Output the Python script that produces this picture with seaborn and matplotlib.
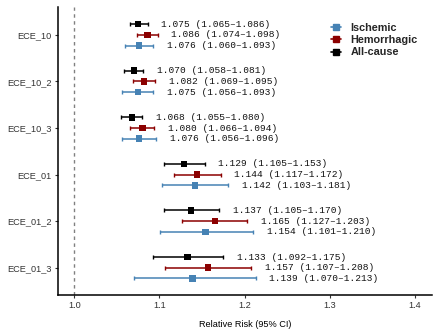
import numpy as np
import pandas as pd
import matplotlib
matplotlib.use("Agg")
import matplotlib.pyplot as plt
from matplotlib.lines import Line2D
import seaborn as sns

sns.set_style("ticks")
plt.rcParams['font.family'] = ['Liberation Sans', 'DejaVu Sans']

groups = ["ECE_10", "ECE_10_2", "ECE_10_3", "ECE_01", "ECE_01_2", "ECE_01_3"]
causes = ["All-cause", "Hemorrhagic", "Ischemic"]

allcause_est = [1.075, 1.070, 1.068, 1.129, 1.137, 1.133]
allcause_lo = [1.065, 1.058, 1.055, 1.105, 1.105, 1.092]
allcause_hi = [1.086, 1.081, 1.080, 1.153, 1.170, 1.175]

hemo_est = [1.086, 1.082, 1.080, 1.144, 1.165, 1.157]
hemo_lo = [1.074, 1.069, 1.066, 1.117, 1.127, 1.107]
hemo_hi = [1.098, 1.095, 1.094, 1.172, 1.203, 1.208]

isch_est = [1.076, 1.075, 1.076, 1.142, 1.154, 1.139]
isch_lo = [1.060, 1.056, 1.056, 1.103, 1.101, 1.070]
isch_hi = [1.093, 1.093, 1.096, 1.181, 1.210, 1.213]

xticks = [1.0, 1.1, 1.2, 1.3, 1.4]

colors = {"All-cause": "#000000", "Hemorrhagic": "#8B0000", "Ischemic": "#4682B4"}
offsets = {"All-cause": -0.23, "Hemorrhagic": 0.0, "Ischemic": 0.23}

series = {
    "All-cause": (allcause_est, allcause_lo, allcause_hi),
    "Hemorrhagic": (hemo_est, hemo_lo, hemo_hi),
    "Ischemic": (isch_est, isch_lo, isch_hi),
}

rows = []
for c in causes:
    est, lo, hi = series[c]
    for i, g in enumerate(groups):
        rows.append(dict(group=g, cause=c, est=est[i], lo=lo[i], hi=hi[i],
                         ypos=i + offsets[c]))
df = pd.DataFrame(rows)

fig = plt.figure(figsize=(4.4, 3.3), dpi=100)
ax = fig.add_axes([0.132, 0.106, 0.85, 0.873])

ax.axvline(1.0, color="#808080", lw=1.0, ls=(0, (2.5, 2.5)), zorder=0)

for c in causes:
    d = df[df.cause == c]
    ax.errorbar(d.est, d.ypos, xerr=[d.est - d.lo, d.hi - d.est], fmt='none',
                ecolor=colors[c], elinewidth=1.1, capsize=1.6, capthick=1.0, zorder=2)

sns.scatterplot(data=df, x="est", y="ypos", hue="cause", palette=colors,
                marker="s", s=22, edgecolor="none", legend=False, ax=ax, zorder=3)

for _, r in df.iterrows():
    ax.text(r.hi + 0.016, r.ypos, f"{r.est:.3f} ({r.lo:.3f}\u2013{r.hi:.3f})",
            family="Liberation Mono", fontsize=6.8, va="center", ha="left", color="#111111")

ax.set_xlim(0.981, 1.42)
ax.set_ylim(5.586, -0.6)
ax.set_xticks(xticks)
ax.set_xticklabels([f"{t:.1f}" for t in xticks])
ax.set_yticks(range(len(groups)))
ax.set_yticklabels(groups)
ax.tick_params(axis="both", labelsize=6.6, length=2.5, width=0.8, colors="#333333",
               labelcolor="#333333", pad=2)
ax.set_xlabel("Relative Risk (95% CI)", fontsize=6.6, color="black", labelpad=7)
ax.set_ylabel("")
for s in ["top", "right"]:
    ax.spines[s].set_visible(False)
for s in ["left", "bottom"]:
    ax.spines[s].set_linewidth(1.1)
    ax.spines[s].set_color("black")

handles = [Line2D([0], [0], color=colors[c], marker="s", markersize=4, lw=1.2)
           for c in ["Ischemic", "Hemorrhagic", "All-cause"]]
leg = ax.legend(handles, ["Ischemic", "Hemorrhagic", "All-cause"], loc="upper left",
                bbox_to_anchor=(331 / 440, 1 - 23 / 330), bbox_transform=fig.transFigure,
                frameon=False, handlelength=0.9, handletextpad=0.9, labelspacing=0.2,
                borderpad=0, borderaxespad=0, prop={"weight": "bold", "size": 7.8})

fig.savefig("out.png", dpi=100)
